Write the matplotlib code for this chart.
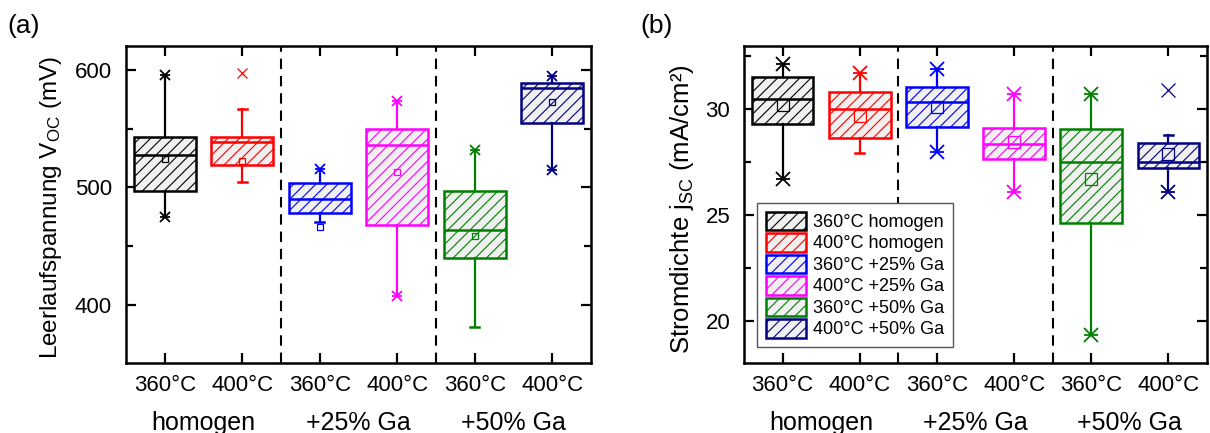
import matplotlib
matplotlib.use('Agg')
import numpy as np
from matplotlib import pyplot as plt
from matplotlib.patches import Patch
from matplotlib.ticker import MultipleLocator

plt.rcParams['font.family'] = ['Liberation Sans', 'DejaVu Sans']
plt.rcParams['mathtext.default'] = 'regular'
plt.rcParams['hatch.linewidth'] = 0.8

# Kategorien
temps = ['360°C', '400°C', '360°C', '400°C', '360°C', '400°C']
groups = ['homogen', '+25% Ga', '+50% Ga']
names = ['360°C homogen', '400°C homogen', '360°C +25% Ga',
         '400°C +25% Ga', '360°C +50% Ga', '400°C +50% Ga']
colors = ['black', '#ff0000', '#0000ff', '#ff00ff', '#008000', '#000080']

# (a) Leerlaufspannung in mV
voc_q1 = [497, 519, 478, 468, 440, 555]
voc_med = [527.5, 538.5, 490.5, 536.5, 463.5, 584.5]
voc_q3 = [543, 543, 503.5, 549.5, 497, 589]
voc_mean = [524.5, 522.5, 466.5, 513, 458.5, 573]
voc_lo = [475, 505, 470.5, 408, 381, 514.5]
voc_hi = [596, 567, 515.5, 573.5, 532, 595]
voc_lo_end = ['star', 'cap', 'cap', 'star', 'cap', 'star']
voc_hi_end = ['star', 'cap', 'star', 'star', 'star', 'star']
voc_out = [[], [597], [], [], [], []]

# (b) Stromdichte in mA/cm2
jsc_q1 = [29.3, 28.63, 29.13, 27.62, 24.62, 27.22]
jsc_med = [30.46, 29.98, 30.35, 28.36, 27.51, 27.51]
jsc_q3 = [31.53, 30.8, 31.04, 29.1, 29.05, 28.38]
jsc_mean = [30.19, 29.67, 30.08, 28.42, 26.67, 27.87]
jsc_lo = [26.69, 27.92, 27.98, 26.09, 19.31, 26.09]
jsc_hi = [32.13, 31.69, 31.88, 30.69, 30.71, 28.77]
jsc_lo_end = ['star', 'cap', 'star', 'star', 'star', 'star']
jsc_hi_end = ['star', 'star', 'star', 'star', 'star', 'cap']
jsc_out = [[], [], [], [], [], [30.9]]


def draw_boxes(ax, q1, med, q3, mean, lo, hi, lo_end, hi_end, out, ms_mean, ms_star):
    pos = np.arange(1, 7)
    stats = []
    for i in range(6):
        stats.append(dict(med=med[i], q1=q1[i], q3=q3[i], whislo=lo[i],
                          whishi=hi[i], mean=mean[i], fliers=out[i]))
    bp = ax.bxp(stats, positions=pos, widths=0.8, patch_artist=True,
                showmeans=True, showcaps=True, showfliers=True)
    for i, c in enumerate(colors):
        box = bp['boxes'][i]
        box.set_facecolor('#f0f0f0')
        box.set_edgecolor(c)
        box.set_hatch('///')
        box.set_linewidth(1.8)
        bp['medians'][i].set(color=c, lw=1.8)
        for w in bp['whiskers'][2 * i:2 * i + 2]:
            w.set(color=c, lw=1.6)
        caps = bp['caps'][2 * i:2 * i + 2]
        for cap in caps:
            cap.set(color=c, lw=1.8)
            cap.set_xdata([pos[i] - 0.06, pos[i] + 0.06])
        caps[0].set_visible(lo_end[i] == 'cap')
        caps[1].set_visible(hi_end[i] == 'cap')
        bp['means'][i].set(marker='s', markerfacecolor='none', markeredgecolor=c,
                           markersize=ms_mean, markeredgewidth=0.9)
        bp['fliers'][i].set(marker='x', markeredgecolor=c, markersize=ms_star,
                            markeredgewidth=0.9)
        # Sterne an den Whisker-Enden
        for v, e in [(lo[i], lo_end[i]), (hi[i], hi_end[i])]:
            if e == 'star':
                ax.plot(pos[i], v, marker='x', color=c, ms=ms_star, mew=1.3)
                ax.plot(pos[i], v, marker='_', color=c, ms=ms_star, mew=1.3)

    ax.set_xlim(0.5, 6.5)
    ax.set_xticks(pos)
    ax.set_xticklabels(temps)
    for xv in [2.5, 4.5]:
        ax.axvline(xv, color='black', ls=(0, (5, 3.3)), lw=1.5, zorder=0)
    for gx, g in zip([1.5, 3.5, 5.5], groups):
        ax.text(gx, -0.212, g, transform=ax.get_xaxis_transform(),
                ha='center', va='baseline', fontsize=18)
    ax.tick_params(axis='both', which='major', direction='in', width=1.6,
                   length=7, top=True, right=True, labelsize=16)
    ax.tick_params(axis='y', which='minor', direction='in', width=1.6,
                   length=5, left=True, right=True)
    ax.tick_params(axis='x', which='major', pad=9)
    ax.tick_params(axis='y', which='major', pad=10)
    ax.tick_params(axis='x', which='minor', top=False, bottom=False)
    for s in ax.spines.values():
        s.set_linewidth(1.8)


fig = plt.figure(figsize=(12.1, 4.33), dpi=100)
ax1 = fig.add_axes([0.1041, 0.1617, 0.3843, 0.731])
ax2 = fig.add_axes([0.6149, 0.1617, 0.3826, 0.731])

draw_boxes(ax1, voc_q1, voc_med, voc_q3, voc_mean, voc_lo, voc_hi,
           voc_lo_end, voc_hi_end, voc_out, 5, 7)
ax1.set_ylim(350.6, 620)
ax1.yaxis.set_major_locator(MultipleLocator(100))
ax1.yaxis.set_minor_locator(MultipleLocator(50))
ax1.set_ylabel('Leerlaufspannung V$_{OC}$ (mV)', fontsize=17.5)
ax1.yaxis.set_label_coords(-0.134, 0.49)

draw_boxes(ax2, jsc_q1, jsc_med, jsc_q3, jsc_mean, jsc_lo, jsc_hi,
           jsc_lo_end, jsc_hi_end, jsc_out, 8, 10)
ax2.set_ylim(18, 32.95)
ax2.yaxis.set_major_locator(MultipleLocator(5))
ax2.yaxis.set_minor_locator(MultipleLocator(2.5))
ax2.set_ylabel('Stromdichte j$_{SC}$ (mA/cm²)', fontsize=18.5)
ax2.yaxis.set_label_coords(-0.103, 0.485)

handles = [Patch(facecolor='#f0f0f0', edgecolor=c, hatch='///', lw=1.8) for c in colors]
leg = ax2.legend(handles, names, loc='lower left', bbox_to_anchor=(0.029, 0.049),
                 borderaxespad=0, fontsize=13, fancybox=False, framealpha=1,
                 edgecolor='#555555', handlelength=2.2, handleheight=1.2,
                 labelspacing=0.12, handletextpad=0.35, borderpad=0.5)
leg.get_frame().set_linewidth(1.0)

fig.text(0.006, 0.94, '(a)', fontsize=19, ha='left', va='center')
fig.text(0.529, 0.94, '(b)', fontsize=19, ha='left', va='center')

plt.savefig('out.png', dpi=100)
